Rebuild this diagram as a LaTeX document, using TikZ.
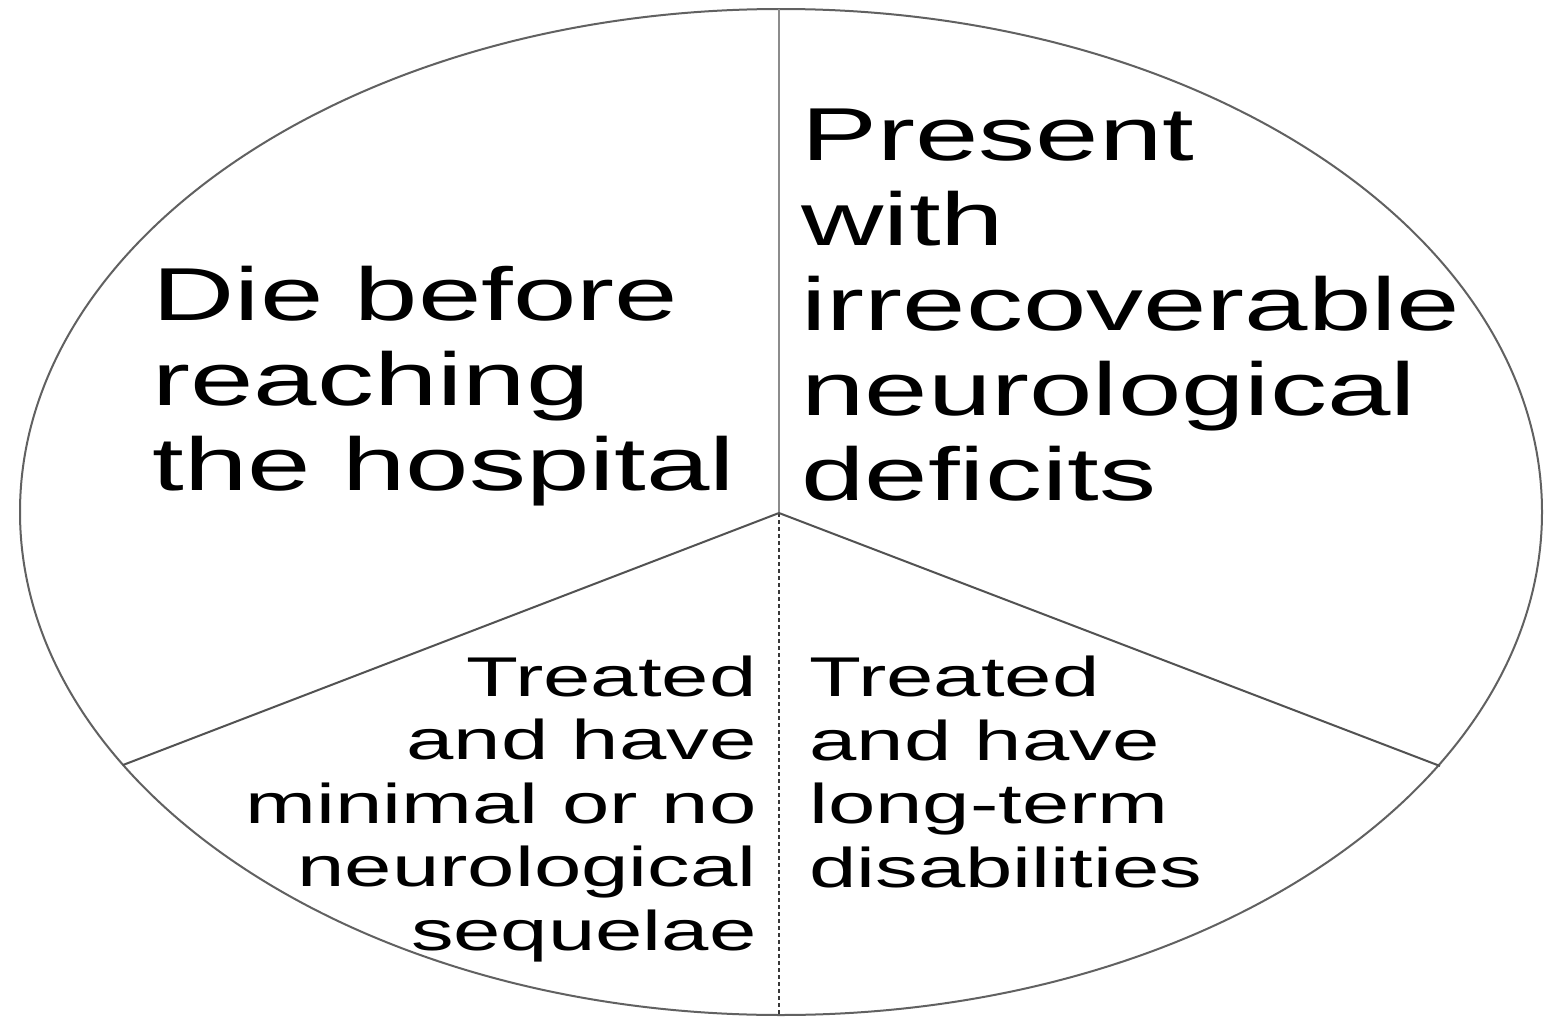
\documentclass[tikz,border=0pt]{standalone}
\usepackage{fontspec}
\newfontfamily\widesans[FakeStretch=1.52]{Liberation Sans}
\begin{document}
\begin{tikzpicture}[x=0.5pt,y=-0.5pt,
  rim/.style={draw=black!62,line width=1pt},
  divider/.style={draw=black!68,line width=1pt},
  upperdiv/.style={draw=black!45,line width=1.3pt},
  lowerdiv/.style={draw=black!78,line width=1pt,dash pattern=on 2pt off 1.5pt},
  bigtext/.style={font=\widesans\fontsize{37.5}{42.5}\selectfont,inner sep=0pt},
  smalltext/.style={font=\widesans\fontsize{28}{31.7}\selectfont,inner sep=0pt}]
  \useasboundingbox (0,0) rectangle (1544,1017);
  \fill[white] (0,0) rectangle (1544,1017);

  % outline
  \draw[rim] (781,512) ellipse [x radius=380.5pt, y radius=251.5pt];

  % points where the dividers meet
  \coordinate (hub) at (779,513);
  \coordinate (top) at (779,9);
  \coordinate (bottom) at (779,1015);
  \coordinate (lft) at (123,765);
  \coordinate (rgt) at (1440,766);

  \draw[upperdiv] (hub) -- (top);
  \draw[lowerdiv] (hub) -- (bottom);
  \draw[divider] (hub) -- (lft);
  \draw[divider] (hub) -- (rgt);

  % sector labels (anchored at the baseline of their last line)
  \node[bigtext,anchor=base west,align=left] (die) at (152,490)
    {Die before\\reaching\\the hospital};
  \node[bigtext,anchor=base west,align=left] (present) at (801,500)
    {Present\\with\\irrecoverable\\neurological\\deficits};
  \node[smalltext,anchor=base east,align=right] (minimal) at (757,950)
    {Treated\\and have\\minimal or no\\neurological\\sequelae};
  \node[smalltext,anchor=base west,align=left] (longterm) at (809,887)
    {Treated\\and have\\long-term\\disabilities};
\end{tikzpicture}
\end{document}
